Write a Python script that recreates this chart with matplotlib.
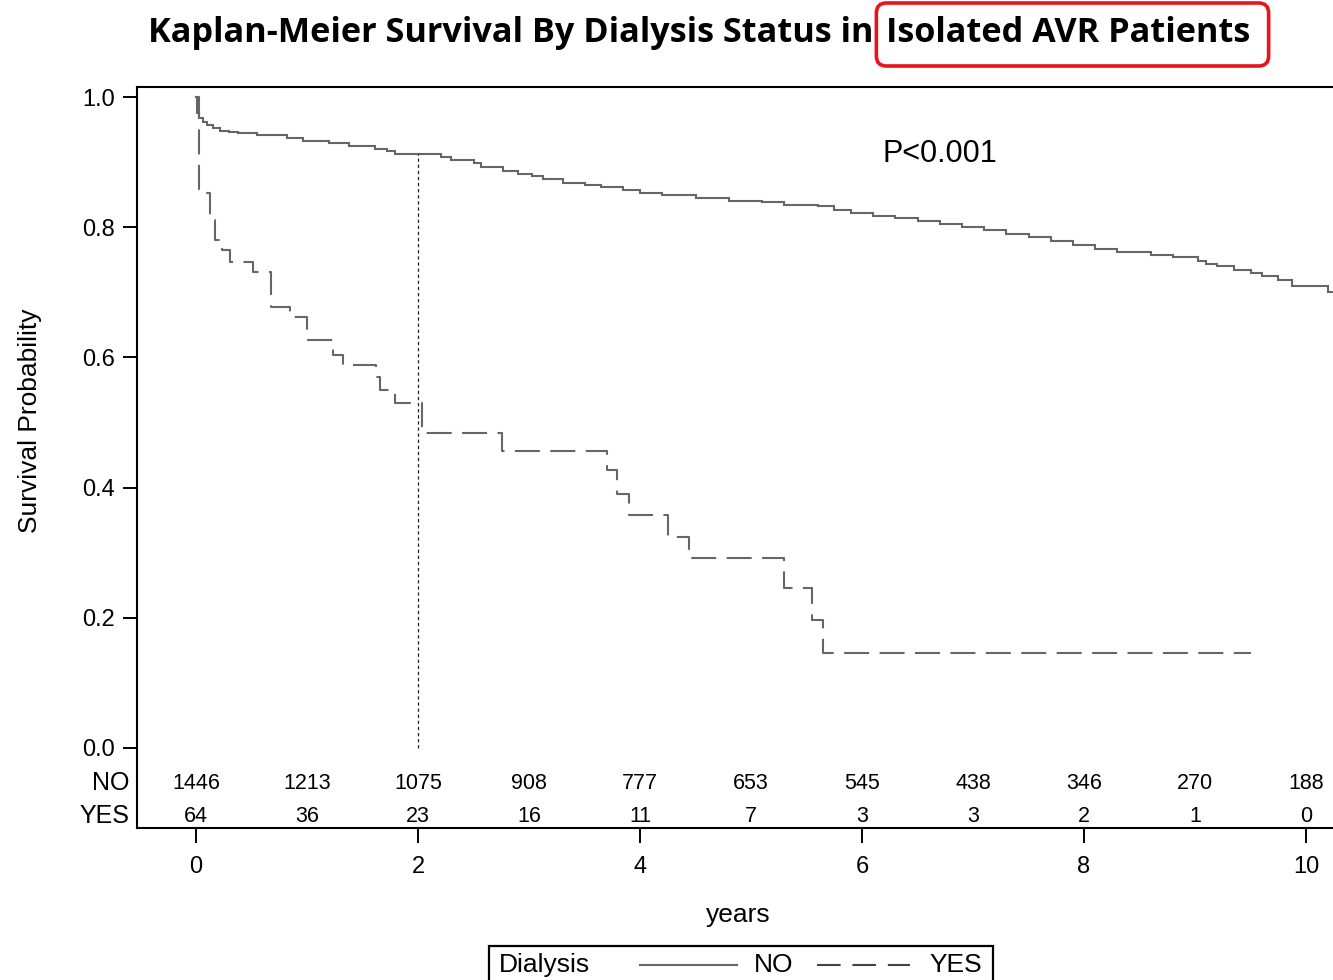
import matplotlib
matplotlib.use("Agg")
import matplotlib.pyplot as plt
from matplotlib.patches import FancyBboxPatch, Rectangle
from matplotlib.lines import Line2D
from matplotlib.transforms import IdentityTransform

# ---- Kaplan-Meier estimates (years, survival probability) ----
no_time = [0.00, 0.01, 0.03, 0.06, 0.10, 0.15, 0.22, 0.30, 0.38, 0.55,
           0.82, 0.96, 1.20, 1.38, 1.61, 1.72, 1.79, 2.21, 2.30, 2.50,
           2.57, 2.77, 2.90, 3.03, 3.13, 3.31, 3.50, 3.65, 3.85, 4.00,
           4.20, 4.50, 4.80, 5.10, 5.30, 5.60, 5.75, 5.90, 6.10, 6.30,
           6.50, 6.70, 6.90, 7.10, 7.30, 7.50, 7.70, 7.90, 8.10, 8.30,
           8.60, 8.80, 9.03, 9.10, 9.20, 9.35, 9.50, 9.60, 9.75, 9.87,
           10.20, 10.35]
no_surv = [1.000, 0.975, 0.968, 0.962, 0.957, 0.952, 0.948, 0.946, 0.944, 0.941,
           0.937, 0.932, 0.929, 0.924, 0.920, 0.917, 0.913, 0.908, 0.904, 0.898,
           0.893, 0.886, 0.881, 0.878, 0.874, 0.868, 0.865, 0.862, 0.857, 0.852,
           0.849, 0.845, 0.841, 0.838, 0.834, 0.832, 0.827, 0.822, 0.818, 0.814,
           0.810, 0.805, 0.800, 0.795, 0.790, 0.785, 0.779, 0.773, 0.767, 0.762,
           0.758, 0.754, 0.748, 0.744, 0.740, 0.735, 0.730, 0.725, 0.719, 0.709,
           0.700, 0.700]

yes_time = [0.00, 0.03, 0.13, 0.17, 0.23, 0.31, 0.51, 0.68, 0.85, 1.00,
            1.23, 1.32, 1.62, 1.66, 1.79, 2.04, 2.76, 3.70, 3.79, 3.90,
            4.25, 4.44, 5.30, 5.55, 5.65, 9.50]
yes_surv = [1.000, 0.853, 0.811, 0.780, 0.765, 0.747, 0.731, 0.677, 0.662, 0.627,
            0.604, 0.588, 0.570, 0.550, 0.530, 0.484, 0.457, 0.427, 0.390, 0.358,
            0.324, 0.292, 0.246, 0.197, 0.146, 0.146]

# numbers at risk
risk_years = [0, 1, 2, 3, 4, 5, 6, 7, 8, 9, 10]
risk_no = [1446, 1213, 1075, 908, 777, 653, 545, 438, 346, 270, 188]
risk_yes = [64, 36, 23, 16, 11, 7, 3, 3, 2, 1, 0]

group_labels = ["NO", "YES"]
landmark_year = 2
p_text = "P<0.001"
title_left = "Kaplan-Meier Survival By Dialysis Status in"
title_right = "Isolated AVR Patients"

assert len(no_time) == len(no_surv)
assert len(yes_time) == len(yes_surv)

FONT = ["Liberation Sans", "DejaVu Sans"]
plt.rcParams["font.family"] = FONT
plt.rcParams["lines.scale_dashes"] = False

W, H = 1333, 980
fig = plt.figure(figsize=(W / 100, H / 100), dpi=100)

# axes box: left 137px, top 87px, bottom 828px, right edge runs past the canvas
ax_l, ax_r, ax_t, ax_b = 137, 1340, 87, 828
ax = fig.add_axes([ax_l / W, 1 - ax_b / H, (ax_r - ax_l) / W, (ax_b - ax_t) / H])
ax.set_xlim(-0.5315, 10.306)
ax.set_ylim(-0.1229, 1.0154)

curve_col = "#666666"
ax.step(no_time, no_surv, where="post", color=curve_col, lw=1.5, solid_joinstyle="miter")
ax.step(yes_time, yes_surv, where="post", color=curve_col, lw=1.5,
        linestyle=(0, (18, 7.5)))

# landmark line at 2 years
no_at_landmark = [s for t, s in zip(no_time, no_surv) if t <= landmark_year][-1]
ax.plot([landmark_year, landmark_year], [0, no_at_landmark], color="#222222",
        lw=0.9, linestyle=(0, (2.4, 2.0)))

ax.text(6.70, 0.912, p_text, ha="center", va="center", fontsize=22)

# spines and ticks
for side in ("left", "top", "bottom"):
    ax.spines[side].set_linewidth(1.5)
    ax.spines[side].set_color("black")
ax.spines["right"].set_visible(False)

ax.set_yticks([0.0, 0.2, 0.4, 0.6, 0.8, 1.0])
ax.set_yticklabels([f"{v:.1f}" for v in [0.0, 0.2, 0.4, 0.6, 0.8, 1.0]])
ax.set_xticks([0, 2, 4, 6, 8, 10])
ax.tick_params(axis="y", direction="out", length=10, width=1.4, labelsize=17, pad=6)
ax.tick_params(axis="x", direction="out", length=11, width=1.4, labelsize=17, pad=9)

ax.set_xlabel("years", fontsize=19, labelpad=18)
ax.set_ylabel("Survival Probability", fontsize=19)
ax.yaxis.set_label_coords(-0.079, 0.549)

# numbers-at-risk table inside the axes
row_y = [-0.054, -0.1045]
for yv, counts, lab in zip(row_y, [risk_no, risk_yes], group_labels):
    for xv, c in zip(risk_years, counts):
        ax.text(xv, yv, str(c), ha="center", va="center", fontsize=15.5)
    ax.text(-0.595, yv, lab, ha="right", va="center", fontsize=18)

# ---- title with highlighted part ----
fig.canvas.draw()
renderer = fig.canvas.get_renderer()
target_w = 1102
size = 24
t1 = fig.text(148 / W, 1 - 33 / H, title_left + " ", ha="left", va="center",
              fontsize=size, fontweight="bold", family=["Open Sans", "DejaVu Sans"])
t2 = fig.text(0, 1 - 33 / H, title_right, ha="left", va="center",
              fontsize=size, fontweight="bold", family=["Open Sans", "DejaVu Sans"])
w1 = t1.get_window_extent(renderer).width
w2 = t2.get_window_extent(renderer).width
size = size * target_w / (w1 + w2)
t1.set_fontsize(size)
t2.set_fontsize(size)
e1 = t1.get_window_extent(renderer)
t2.set_x((e1.x1 + 4) / W)
e2 = t2.get_window_extent(renderer)
box = FancyBboxPatch((e2.x0 - 10, H - 66), (e2.x1 - e2.x0) + 28, 63,
                     boxstyle="round,pad=0,rounding_size=10",
                     transform=IdentityTransform(), fill=False,
                     edgecolor="#e8141b", lw=2.6)
fig.add_artist(box)

# ---- legend strip at the bottom ----
def px(x, y):
    return x / W, 1 - y / H

lx0, lx1, ly0 = 489, 993, 946
fig.add_artist(Rectangle(px(lx0, H + 20), (lx1 - lx0) / W, (H + 20 - ly0) / H,
                         transform=fig.transFigure, fill=False, edgecolor="black",
                         lw=1.6))
ly = 965
fig.text(*px(499, ly), "Dialysis", ha="left", va="center", fontsize=19)
fig.add_artist(Line2D([640 / W, 737 / W], [1 - ly / H] * 2, transform=fig.transFigure,
                      color=curve_col, lw=1.5))
fig.text(*px(754, ly), group_labels[0], ha="left", va="center", fontsize=19)
fig.add_artist(Line2D([817 / W, 910 / W], [1 - ly / H] * 2, transform=fig.transFigure,
                      color="#444444", lw=1.5, linestyle=(0, (17, 8.5))))
fig.text(*px(929, ly), group_labels[1], ha="left", va="center", fontsize=19)

fig.savefig("out.png", dpi=100)
